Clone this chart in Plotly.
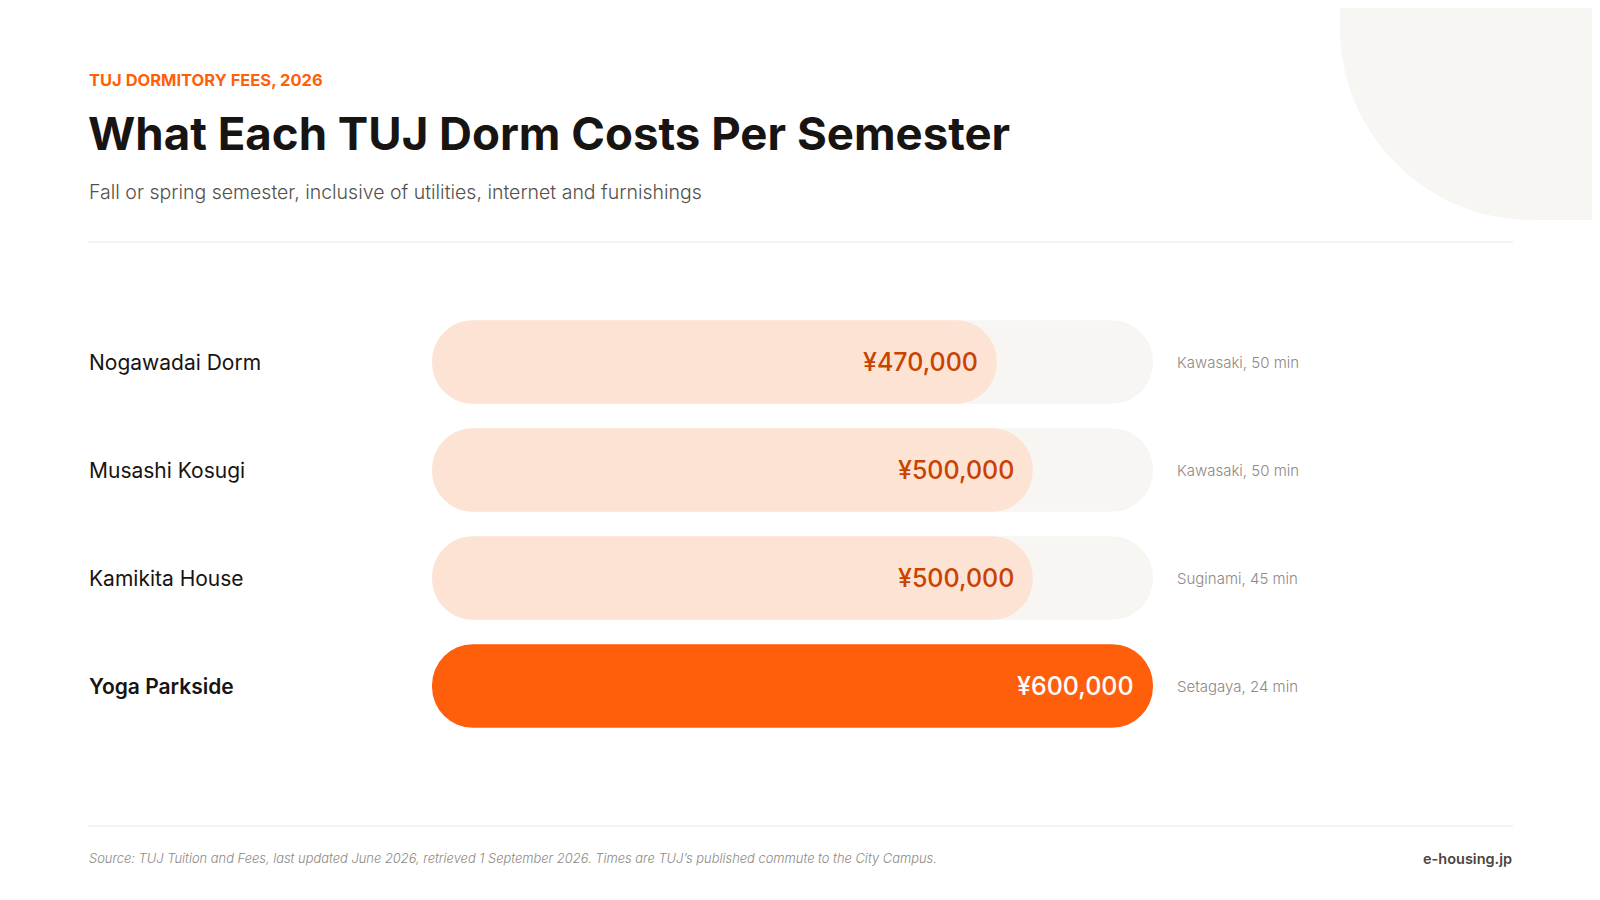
import plotly.graph_objects as go

# ---------------- data ----------------
dorms = ["Nogawadai Dorm", "Musashi Kosugi", "Kamikita House", "Yoga Parkside"]
fees = [470000, 500000, 500000, 600000]
fee_labels = ["¥470,000", "¥500,000", "¥500,000", "¥600,000"]
commutes = ["Kawasaki, 50 min", "Kawasaki, 50 min", "Suginami, 45 min", "Setagaya, 24 min"]
highlight = "Yoga Parkside"
track_max = 600000

eyebrow = "TUJ DORMITORY FEES, 2026"
title = "What Each TUJ Dorm Costs Per Semester"
subtitle = "Fall or spring semester, inclusive of utilities, internet and furnishings"
source = ("Source: TUJ Tuition and Fees, last updated June 2026, retrieved 1 September 2026. "
          "Times are TUJ\u2019s published commute to the City Campus.")
brand = "e-housing.jp"

# ---------------- style ----------------
OFF = 8                      # page body margin of the html wrapper
W, H = 1600 - OFF, 900 - OFF
FONT = "Inter"
ORANGE = "#FF5F0A"
PEACH = "#FDE3D4"
TRACK = "#F8F6F2"
DARK = "#171412"
VAL_DARK = "#C94200"
GRAY = "#8E8883"
LINE = "#ECE7E1"

# target pixel geometry (in the 1600x900 window)
X0_PX, XMAX_PX = 432, 1153          # where 0 and track_max land
DOM_L_PX, DOM_R_PX = 400, 1200
scale = (XMAX_PX - X0_PX) / track_max
x_range = [-(X0_PX - DOM_L_PX) / scale, track_max + (DOM_R_PX - XMAX_PX) / scale]
ROW_TOP_PX, ROW_BOT_PX = 308, 740
BAR_W = 0.775


def px(x):
    return (x - OFF) / W


def py(y):
    return 1 - (y - OFF) / H


fill_colors = [ORANGE if d == highlight else PEACH for d in dorms]

fig = go.Figure()

# background track (pill)
fig.add_trace(go.Bar(
    y=dorms, x=[track_max] * len(dorms), base=[0] * len(dorms),
    orientation="h", width=BAR_W, marker=dict(color=TRACK, cornerradius="50%", line_width=0),
    hoverinfo="skip", showlegend=False))

# value bars (pill)
fig.add_trace(go.Bar(
    y=dorms, x=fees, base=[0] * len(dorms),
    orientation="h", width=BAR_W, marker=dict(color=fill_colors, cornerradius="50%", line_width=0),
    hoverinfo="skip", showlegend=False))

annotations = []
for d, f, lab, c in zip(dorms, fees, fee_labels, commutes):
    hl = d == highlight
    annotations.append(dict(
        x=px(87), xref="paper", y=d, yref="y", xanchor="left", yanchor="middle",
        text=d, showarrow=False,
        font=dict(family=FONT, size=21, color=DARK, weight=600 if hl else 400)))
    annotations.append(dict(
        x=f, xref="x", y=d, yref="y", xanchor="right", yanchor="middle", xshift=-17,
        text=lab, showarrow=False,
        font=dict(family=FONT, size=25, color="#FFFFFF" if hl else VAL_DARK, weight=500)))
    annotations.append(dict(
        x=track_max, xref="x", y=d, yref="y", xanchor="left", yanchor="middle", xshift=22,
        text=c, showarrow=False,
        font=dict(family=FONT, size=15, color=GRAY, weight=300)))

# header / footer
annotations += [
    dict(x=px(87), y=py(80), xref="paper", yref="paper", xanchor="left", yanchor="middle",
         text=eyebrow, showarrow=False, font=dict(family=FONT, size=16.5, color=ORANGE, weight=700)),
    dict(x=px(86), y=py(133), xref="paper", yref="paper", xanchor="left", yanchor="middle",
         text=title, showarrow=False, font=dict(family=FONT, size=45.6, color=DARK, weight=700)),
    dict(x=px(87), y=py(192), xref="paper", yref="paper", xanchor="left", yanchor="middle",
         text=subtitle, showarrow=False, font=dict(family=FONT, size=19.5, color="#55504B", weight=300)),
    dict(x=px(87), y=py(858), xref="paper", yref="paper", xanchor="left", yanchor="middle",
         text=source, showarrow=False,
         font=dict(family=FONT, size=12.9, color=GRAY, style="italic", weight=300)),
    dict(x=px(1514), y=py(858), xref="paper", yref="paper", xanchor="right", yanchor="middle",
         text=brand, showarrow=False, font=dict(family=FONT, size=14.5, color="#4A4541", weight=600)),
]

# decorative blob top-right (rounded bottom-left corner)
R = 192
k = 0.5523 * R
bx, by = 1340, 220
blob = (f"M {px(bx)},{py(-20)} L {px(bx)},{py(by - R)} "
        f"C {px(bx)},{py(by - R + k)} {px(bx + R - k)},{py(by)} {px(bx + R)},{py(by)} "
        f"L {px(1620)},{py(by)} L {px(1620)},{py(-20)} Z")

shapes = [
    dict(type="path", path=blob, xref="paper", yref="paper", fillcolor=TRACK,
         line=dict(width=0), layer="below"),
    dict(type="line", xref="paper", yref="paper", x0=px(88), x1=px(1513), y0=py(242), y1=py(242),
         line=dict(color=LINE, width=1)),
    dict(type="line", xref="paper", yref="paper", x0=px(88), x1=px(1513), y0=py(826), y1=py(826),
         line=dict(color=LINE, width=1)),
]

fig.update_layout(
    width=W, height=H, autosize=False,
    margin=dict(l=0, r=0, t=0, b=0),
    paper_bgcolor="#FFFFFF", plot_bgcolor="rgba(0,0,0,0)",
    barmode="overlay",
    xaxis=dict(domain=[px(DOM_L_PX), px(DOM_R_PX)], range=x_range, visible=False, fixedrange=True),
    yaxis=dict(domain=[py(ROW_BOT_PX), py(ROW_TOP_PX)], range=[len(dorms) - 0.5, -0.5],
               type="category", categoryorder="array", categoryarray=dorms,
               visible=False, fixedrange=True),
    annotations=annotations,
    shapes=shapes,
    showlegend=False,
)

fig.write_html("out.html")
